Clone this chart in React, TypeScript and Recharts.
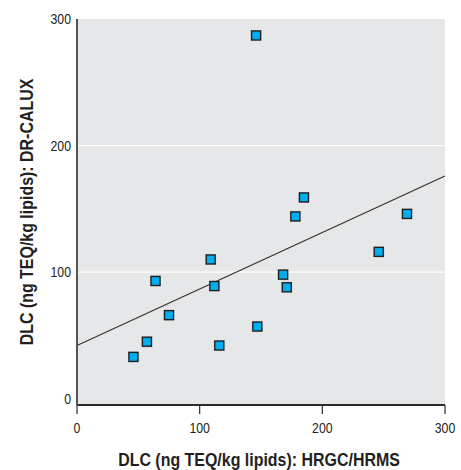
import React from 'react';
import {
  ScatterChart,
  Scatter,
  XAxis,
  YAxis,
  CartesianGrid,
  ReferenceLine,
  Label,
} from 'recharts';

// HRGC/HRMS (x) vs DR-CALUX (y), ng TEQ/kg lipids
const hrgcValues = [46, 57, 64, 75, 109, 112, 116, 146, 147, 168, 171, 178, 185, 246, 269];
const caluxValues = [33, 45, 93, 66, 110, 89, 42, 287, 57, 98, 88, 144, 159, 116, 146];

// regression line end points
const fitX = [0, 300];
const fitY = [42, 176];

const xTicks = [0, 100, 200, 300];
const yTicks = [0, 100, 200, 300];
const gridLines = [100, 200];

const xTitle = 'DLC (ng TEQ/kg lipids): HRGC/HRMS';
const yTitle = 'DLC (ng TEQ/kg lipids): DR-CALUX';

const points = hrgcValues.map((x, i) => ({ x, y: caluxValues[i] }));
const fitSegment = fitX.map((x, i) => ({ x, y: fitY[i] }));

const FONT = "'Liberation Sans', Arial, sans-serif";
const INK = '#231f20';
// no condensed face installed, so squeeze glyphs horizontally
const SQUEEZE = 0.82;
const TITLE_SQUEEZE = 0.84;

const SquareDot = (props: any) => {
  const { cx, cy } = props;
  const s = 9;
  return (
    <g>
      <rect x={cx - s / 2 - 1} y={cy - s / 2 - 1} width={s + 2} height={s + 2} fill="#9a9b9d" opacity={0.6} />
      <rect x={cx - s / 2} y={cy - s / 2} width={s} height={s} fill="#00aeef" stroke="#1c1c1c" strokeWidth={1.3} />
    </g>
  );
};

const XTick = (props: any) => {
  const { x, y, payload } = props;
  return (
    <text
      transform={`translate(${x},${y}) scale(${SQUEEZE},1)`}
      dy="0.71em"
      textAnchor="middle"
      fill={INK}
      fontSize={15}
      fontFamily={FONT}
    >
      {payload.value}
    </text>
  );
};

const YTick = (props: any) => {
  const { x, y, payload } = props;
  return (
    <text
      transform={`translate(${x},${y}) scale(${SQUEEZE},1)`}
      dy="0.355em"
      textAnchor="end"
      fill={INK}
      fontSize={15}
      fontFamily={FONT}
    >
      {payload.value}
    </text>
  );
};

const XTitle = (props: any) => {
  const { x, y, width, height } = props.viewBox;
  return (
    <text
      transform={`translate(${x + width / 2 - 2},${y + height - 4}) scale(${TITLE_SQUEEZE},1)`}
      textAnchor="middle"
      fill={INK}
      fontSize={19}
      fontWeight="bold"
      fontFamily={FONT}
    >
      {xTitle}
    </text>
  );
};

const YTitle = (props: any) => {
  const { x, y, height } = props.viewBox;
  return (
    <text
      transform={`translate(${x + 33},${y + height / 2}) rotate(-90) scale(${TITLE_SQUEEZE},1)`}
      textAnchor="middle"
      fill={INK}
      fontSize={19}
      fontWeight="bold"
      fontFamily={FONT}
    >
      {yTitle}
    </text>
  );
};

export default function App() {
  return (
    <div style={{ position: 'absolute', left: 0, top: 0, background: '#fff' }}>
      <ScatterChart
        width={461}
        height={470}
        margin={{ top: 19, right: 16, left: 0, bottom: 0 }}
      >
        <CartesianGrid
          fill="#e6e7e8"
          stroke="#ffffff"
          strokeWidth={1.2}
          vertical={false}
          horizontalValues={gridLines}
        />
        <XAxis
          type="number"
          dataKey="x"
          domain={[0, 300]}
          ticks={xTicks}
          height={65}
          axisLine={{ stroke: '#2b2b2b', strokeWidth: 2 }}
          tickLine={{ stroke: '#2b2b2b', strokeWidth: 1.2 }}
          tickSize={9}
          tickMargin={8}
          tick={<XTick />}
        >
          <Label content={<XTitle />} />
        </XAxis>
        <YAxis
          type="number"
          dataKey="y"
          domain={[-5, 300]}
          ticks={yTicks}
          width={77}
          axisLine={{ stroke: '#555555', strokeWidth: 2 }}
          tickLine={false}
          tickSize={4}
          tickMargin={2}
          tick={<YTick />}
        >
          <Label content={<YTitle />} />
        </YAxis>
        <ReferenceLine segment={fitSegment} stroke="#333333" strokeWidth={1.2} ifOverflow="extendDomain" />
        <Scatter data={points} shape={SquareDot} isAnimationActive={false} />
      </ScatterChart>
    </div>
  );
}
